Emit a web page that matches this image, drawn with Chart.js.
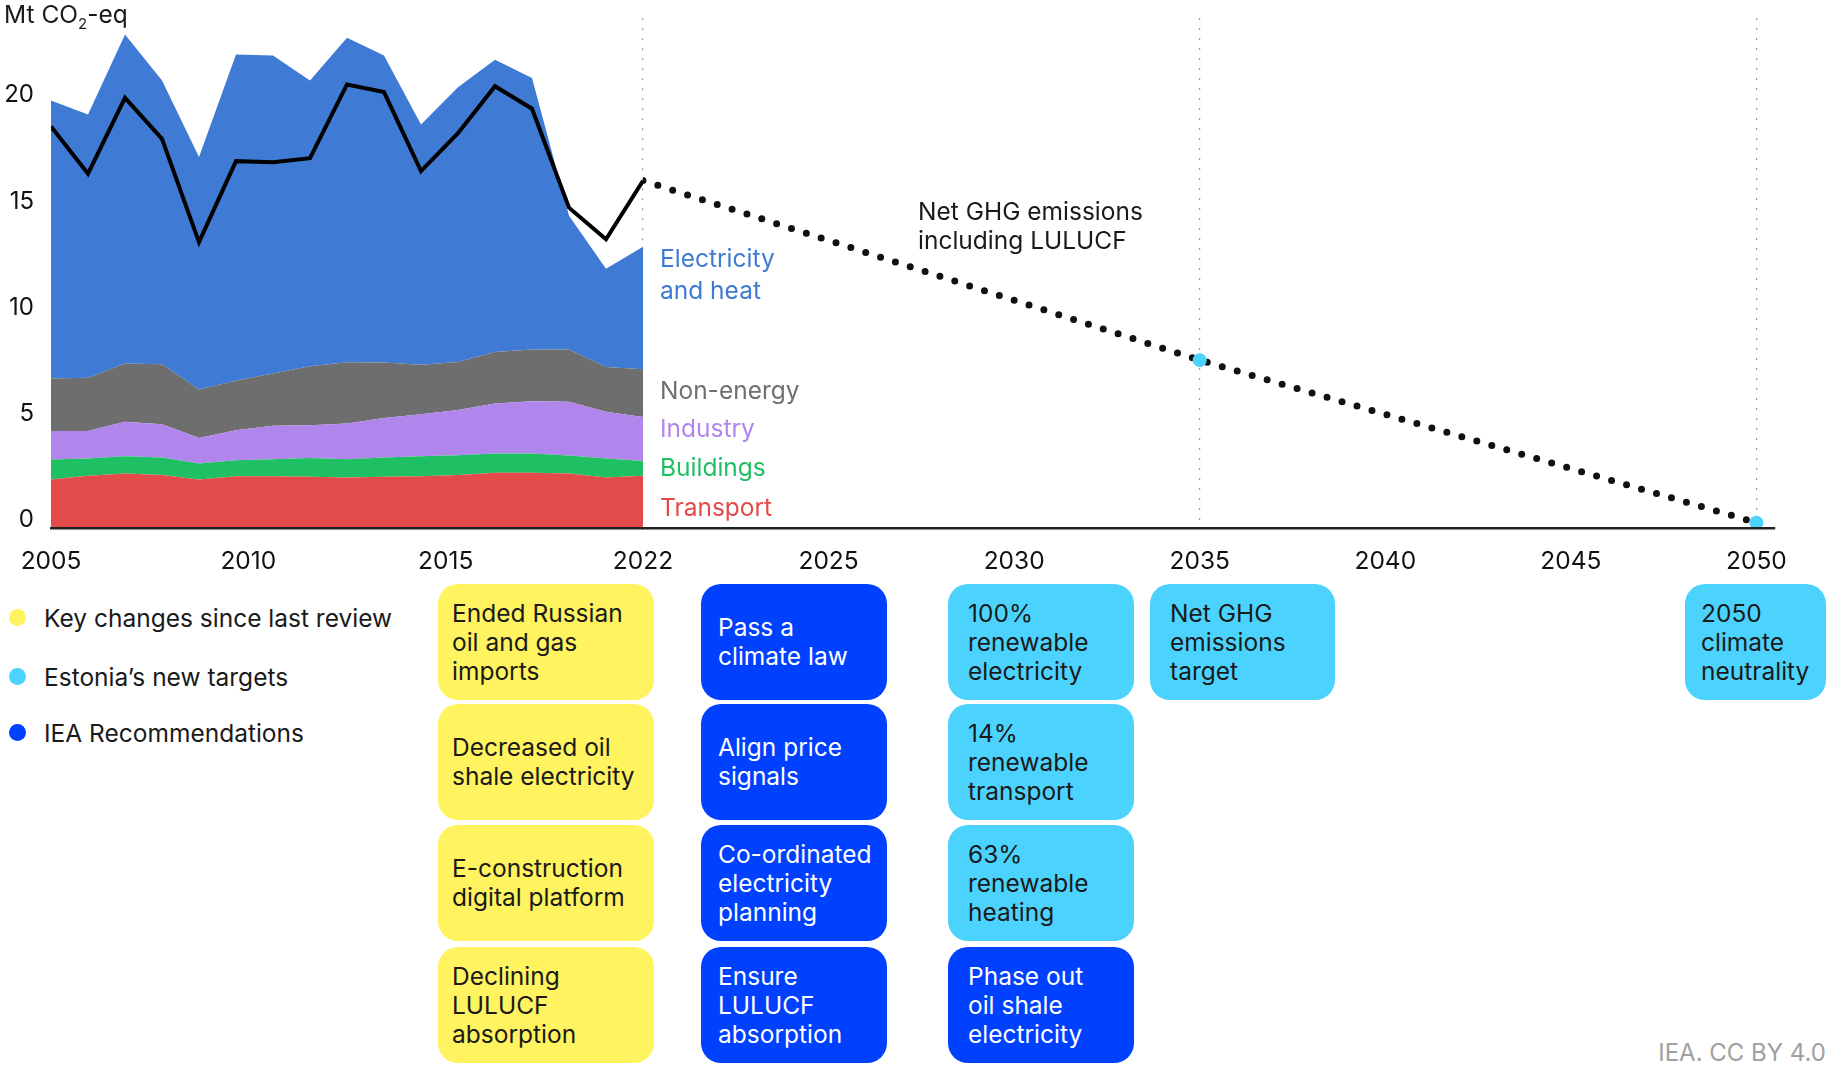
<!DOCTYPE html>
<html>
<head>
<meta charset="utf-8">
<script src="https://cdn.jsdelivr.net/npm/chart.js@4.4.0/dist/chart.umd.min.js"></script>
<style>
  body { margin: 0; background: #fff; font-family: Inter, "Noto Sans", sans-serif; color: #1a1a1a; }
  #wrap { position: relative; width: 1831px; height: 1066px; overflow: hidden; background: #fff; }
  .chartBox { position: absolute; top: 0; height: 600px; }
  #histBox { left: 0; width: 700px; }
  #pathBox { left: 600px; width: 1231px; }
  .txt { position: absolute; white-space: pre; font-size: 24.5px; line-height: 30px; z-index: 3; }
  .box { position: absolute; height: 116px; border-radius: 20px; display: flex; align-items: center;
         box-sizing: border-box; font-size: 24.5px; line-height: 29px; white-space: pre; z-index: 3; }
  .dot { position: absolute; width: 17px; height: 17px; border-radius: 50%; z-index: 3; }
</style>
</head>
<body>
<div id="wrap">
  <div class="chartBox" id="histBox"><canvas id="histChart"></canvas></div>
  <div class="chartBox" id="pathBox"><canvas id="pathChart"></canvas></div>
  <div class="txt" style="left:4px; top:0px; line-height:28px;">Mt CO<sub style="font-size:15px;">2</sub>-eq</div>
  <div id="notes"></div>
</div>
<script>
// historical sector emissions, Mt CO2-eq (stacked)
const histYears = [2005, 2006, 2007, 2008, 2009, 2010, 2011, 2012, 2013, 2014, 2015, 2016, 2017, 2018, 2019, 2020, 2021];
const transport = [2.28, 2.46, 2.57, 2.50, 2.28, 2.44, 2.44, 2.41, 2.38, 2.41, 2.44, 2.49, 2.60, 2.60, 2.57, 2.38, 2.46];
const buildings = [0.95, 0.81, 0.81, 0.82, 0.76, 0.75, 0.80, 0.89, 0.86, 0.91, 0.94, 0.94, 0.91, 0.91, 0.84, 0.89, 0.69];
const industry = [1.34, 1.30, 1.62, 1.57, 1.20, 1.41, 1.57, 1.54, 1.68, 1.86, 1.98, 2.12, 2.35, 2.46, 2.53, 2.20, 2.08];
const nonEnergy = [2.47, 2.50, 2.74, 2.82, 2.28, 2.33, 2.46, 2.78, 2.88, 2.61, 2.33, 2.27, 2.43, 2.43, 2.46, 2.11, 2.24];
const electricity = [13.08, 12.40, 15.49, 13.36, 10.94, 15.36, 14.97, 13.45, 15.28, 14.45, 11.31, 12.93, 13.75, 12.79, 6.30, 4.62, 5.77];
const netGhg = [18.90, 16.68, 20.25, 18.32, 13.46, 17.27, 17.22, 17.41, 20.88, 20.52, 16.80, 18.59, 20.80, 19.74, 15.08, 13.59, 16.35];

// axis labels
const histTicks = ["2005", "2010", "2015", "2022"];
const pathLabels = ["2022", "2025", "2030", "2035", "2040", "2045", "2050"];

// pathway of net emissions incl. LULUCF
const pathYears = ["2022", "2035", "2050"];
const pathValues = [16.35, 7.9, 0.25];
const targetYears = ["2035", "2050"];

// timeline boxes
const changes = ["Ended Russian\noil and gas\nimports", "Decreased oil\nshale electricity", "E-construction\ndigital platform", "Declining\nLULUCF\nabsorption"];
const recs2025 = ["Pass a\nclimate law", "Align price\nsignals", "Co-ordinated\nelectricity\nplanning", "Ensure\nLULUCF\nabsorption"];
const items2030 = ["100%\nrenewable\nelectricity", "14%\nrenewable\ntransport", "63%\nrenewable\nheating", "Phase out\noil shale\nelectricity"];
const kinds2030 = ["target", "target", "target", "rec"];
const items2035 = ["Net GHG\nemissions\ntarget"];
const items2050 = ["2050\nclimate\nneutrality"];

const COLORS = {
  electricity: "#3f7bd4", nonEnergy: "#6e6e6e", industry: "#b186ec",
  buildings: "#1fbf63", transport: "#e24b4a",
  change: "#fff35f", target: "#4bd3fe", rec: "#0040ff"
};
const FONT = "Inter, 'Noto Sans', sans-serif";
const NONE = "rgba(0,0,0,0)";
const GRID = "#9a9a9a";

function area(label, values, color, fill) {
  return {
    label: label,
    data: values.map((v, i) => ({ x: histYears[i], y: v })),
    xAxisID: "xh",
    stack: "sectors",
    backgroundColor: color,
    borderWidth: 0,
    pointRadius: 0,
    fill: fill,
    order: 2
  };
}

new Chart(document.getElementById("histChart"), {
  type: "line",
  data: {
    datasets: [
      area("Transport", transport, COLORS.transport, "origin"),
      area("Buildings", buildings, COLORS.buildings, "-1"),
      area("Industry", industry, COLORS.industry, "-1"),
      area("Non-energy", nonEnergy, COLORS.nonEnergy, "-1"),
      area("Electricity and heat", electricity, COLORS.electricity, "-1"),
      {
        label: "Net GHG emissions including LULUCF",
        data: netGhg.map((v, i) => ({ x: histYears[i], y: v })),
        xAxisID: "xh",
        stack: "net",
        borderColor: "#000",
        borderWidth: 4,
        pointRadius: 0,
        fill: false,
        order: 1
      }
    ]
  },
  options: {
    responsive: true,
    maintainAspectRatio: false,
    animation: false,
    events: [],
    layout: { padding: { top: 18, right: 57, bottom: 22, left: 0 } },
    plugins: { legend: { display: false }, tooltip: { enabled: false } },
    scales: {
      x: {
        type: "category",
        labels: histTicks,
        offset: false,
        border: { display: true, color: "#222", width: 2.5, dash: [2, 8], z: 1 },
        grid: {
          drawTicks: false,
          lineWidth: 1.2,
          color: c => (c.tick && c.index === histTicks.length - 1) ? GRID : NONE
        },
        ticks: { padding: 19, autoSkip: false, maxRotation: 0, color: "#111", font: { family: FONT, size: 24.5 } },
        afterFit: s => { s.height = 50; }
      },
      xh: { type: "linear", display: false, min: histYears[0], max: histYears[histYears.length - 1] },
      y: {
        stacked: true,
        min: 0,
        max: 24,
        border: { display: false },
        grid: { display: false, drawTicks: false },
        ticks: {
          stepSize: 5, padding: 17, labelOffset: -8, color: "#111",
          font: { family: FONT, size: 24, lineHeight: 0.1 },
          callback: v => (v % 5 === 0 ? v : "")
        },
        afterFit: s => { s.width = 51; }
      }
    }
  }
});

new Chart(document.getElementById("pathChart"), {
  type: "line",
  data: {
    datasets: [{
      label: "Net GHG pathway",
      data: pathYears.map((yr, i) => ({ x: pathLabels.indexOf(yr), y: pathValues[i] })),
      borderColor: "#111",
      borderWidth: 7,
      borderDash: [0, 15.6],
      borderCapStyle: "round",
      fill: false,
      tension: 0,
      pointRadius: pathYears.map(yr => (targetYears.includes(yr) ? 7 : 0)),
      pointBackgroundColor: COLORS.target,
      pointBorderWidth: 0
    }]
  },
  options: {
    responsive: true,
    maintainAspectRatio: false,
    animation: false,
    events: [],
    layout: { padding: { top: 18, right: 56, bottom: 22, left: 43 } },
    plugins: { legend: { display: false }, tooltip: { enabled: false } },
    scales: {
      x: {
        type: "linear",
        min: 0,
        max: pathLabels.length - 1 + 0.1,
        afterBuildTicks: s => { s.ticks = pathLabels.map((_, i) => ({ value: i })); },
        border: { display: true, color: "#222", width: 2.5, dash: [2, 8], z: 1 },
        grid: {
          drawTicks: false,
          lineWidth: 1.2,
          color: c => (c.tick && targetYears.includes(pathLabels[c.tick.value])) ? GRID : NONE
        },
        ticks: {
          padding: 19, autoSkip: false, maxRotation: 0, color: "#111",
          font: { family: FONT, size: 24.5 },
          callback: (v, i) => (i === 0 ? "" : pathLabels[v])
        },
        afterFit: s => { s.height = 50; }
      },
      y: { min: 0, max: 24, display: false }
    }
  }
});

// text notes, legend and timeline boxes
const notes = document.getElementById("notes");
function addText(txt, left, top, style) {
  const d = document.createElement("div");
  d.className = "txt";
  d.textContent = txt;
  d.style.left = left + "px";
  d.style.top = top + "px";
  Object.assign(d.style, style || {});
  notes.appendChild(d);
  return d;
}
addText("Electricity\nand heat", 660, 242, { color: COLORS.electricity, lineHeight: "32.4px" });
addText("Non-energy", 660, 375, { color: "#707070" });
addText("Industry", 660, 413, { color: COLORS.industry });
addText("Buildings", 660, 452, { color: COLORS.buildings });
addText("Transport", 660, 492, { color: COLORS.transport });
addText("Net GHG emissions\nincluding LULUCF", 918, 197, { lineHeight: "29px" });
addText("IEA. CC BY 4.0", 0, 1038, { left: "auto", right: "5px", color: "#a0a0a0", fontSize: "24px" });

const legendItems = [
  ["Key changes since last review", COLORS.change],
  ["Estonia\u2019s new targets", COLORS.target],
  ["IEA Recommendations", COLORS.rec]
];
const legendTops = [603, 662, 718];
legendItems.forEach((it, i) => {
  addText(it[0], 44, legendTops[i]);
  const dot = document.createElement("div");
  dot.className = "dot";
  dot.style.left = "9px";
  dot.style.top = (legendTops[i] + 6) + "px";
  dot.style.background = it[1];
  notes.appendChild(dot);
});

const rowTops = [584, 704, 825, 947];
function addColumn(texts, kinds, left, width, pad) {
  texts.forEach((t, i) => {
    const b = document.createElement("div");
    b.className = "box";
    b.textContent = t;
    b.style.left = left + "px";
    b.style.top = rowTops[i] + "px";
    b.style.width = width + "px";
    b.style.paddingLeft = pad + "px";
    b.style.background = COLORS[kinds[i]];
    b.style.color = kinds[i] === "rec" ? "#fff" : "#1a1a1a";
    notes.appendChild(b);
  });
}
addColumn(changes, changes.map(() => "change"), 438, 216, 14);
addColumn(recs2025, recs2025.map(() => "rec"), 701, 186, 17);
addColumn(items2030, kinds2030, 948, 186, 20);
addColumn(items2035, ["target"], 1150, 185, 20);
addColumn(items2050, ["target"], 1685, 141, 16);
</script>
</body>
</html>
